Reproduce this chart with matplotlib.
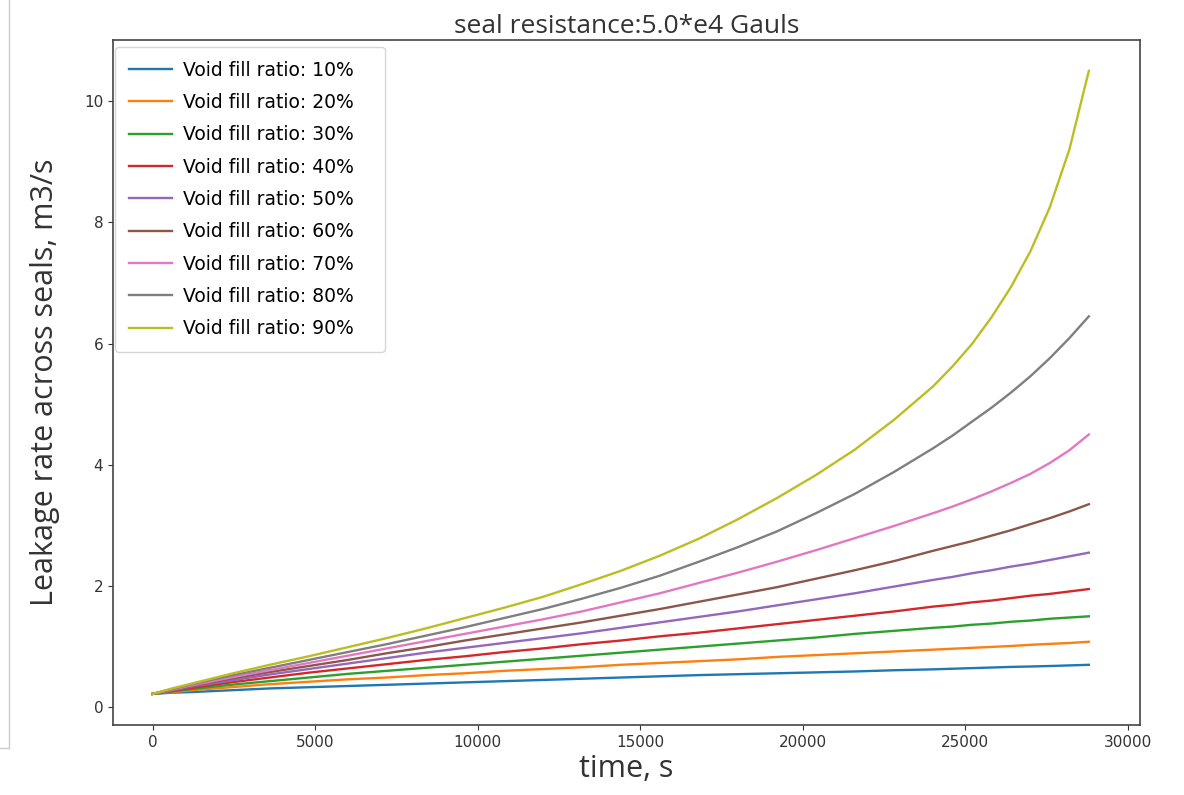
import matplotlib
matplotlib.use("Agg")
import matplotlib.pyplot as plt
from matplotlib.lines import Line2D

# time grid (s) and leakage rate (m3/s)
time = [0, 600, 1200, 2400, 3600, 4800, 6000, 7200, 8400, 9600, 10800, 12000,
        13200, 14400, 15600, 16800, 18000, 19200, 20400, 21600, 22800, 24000,
        24600, 25200, 25800, 26400, 27000, 27600, 28200, 28800]

ratios = [10, 20, 30, 40, 50, 60, 70, 80, 90]

leak_10 = [0.22, 0.24, 0.25, 0.28, 0.31, 0.33, 0.35, 0.37, 0.39, 0.41, 0.43, 0.45,
           0.47, 0.49, 0.51, 0.53, 0.545, 0.56, 0.575, 0.59, 0.61, 0.625,
           0.635, 0.645, 0.655, 0.665, 0.672, 0.68, 0.69, 0.70]
leak_20 = [0.22, 0.25, 0.28, 0.33, 0.38, 0.42, 0.46, 0.49, 0.53, 0.56, 0.60, 0.63,
           0.66, 0.70, 0.73, 0.76, 0.79, 0.83, 0.86, 0.89, 0.92, 0.95,
           0.965, 0.98, 0.995, 1.01, 1.03, 1.045, 1.06, 1.08]
leak_30 = [0.22, 0.26, 0.30, 0.37, 0.43, 0.49, 0.55, 0.60, 0.65, 0.70, 0.75, 0.80,
           0.85, 0.90, 0.95, 1.00, 1.05, 1.10, 1.15, 1.21, 1.26, 1.31,
           1.33, 1.36, 1.38, 1.41, 1.43, 1.46, 1.48, 1.50]
leak_40 = [0.22, 0.27, 0.32, 0.41, 0.49, 0.57, 0.64, 0.71, 0.78, 0.84, 0.91, 0.97,
           1.04, 1.10, 1.17, 1.23, 1.30, 1.37, 1.44, 1.51, 1.58, 1.66,
           1.69, 1.73, 1.76, 1.80, 1.84, 1.87, 1.91, 1.95]
leak_50 = [0.22, 0.28, 0.34, 0.44, 0.54, 0.63, 0.72, 0.81, 0.90, 0.98, 1.06, 1.14,
           1.22, 1.31, 1.40, 1.49, 1.58, 1.68, 1.78, 1.88, 1.99, 2.10,
           2.15, 2.21, 2.26, 2.32, 2.37, 2.43, 2.49, 2.55]
leak_60 = [0.22, 0.29, 0.35, 0.47, 0.58, 0.68, 0.78, 0.89, 0.99, 1.10, 1.20, 1.30,
           1.40, 1.51, 1.62, 1.74, 1.86, 1.98, 2.12, 2.26, 2.41, 2.58,
           2.66, 2.74, 2.83, 2.92, 3.02, 3.12, 3.23, 3.35]
leak_70 = [0.22, 0.29, 0.36, 0.49, 0.61, 0.73, 0.85, 0.97, 1.09, 1.21, 1.33, 1.45,
           1.58, 1.73, 1.88, 2.05, 2.22, 2.40, 2.59, 2.79, 2.99, 3.20,
           3.31, 3.43, 3.56, 3.70, 3.85, 4.03, 4.24, 4.50]
leak_80 = [0.22, 0.30, 0.38, 0.52, 0.65, 0.78, 0.91, 1.04, 1.18, 1.32, 1.47, 1.62,
           1.79, 1.97, 2.17, 2.40, 2.64, 2.90, 3.20, 3.52, 3.88, 4.27,
           4.48, 4.71, 4.94, 5.19, 5.46, 5.76, 6.09, 6.45]
leak_90 = [0.22, 0.31, 0.39, 0.55, 0.70, 0.84, 0.99, 1.14, 1.30, 1.47, 1.64, 1.82,
           2.03, 2.25, 2.50, 2.78, 3.10, 3.45, 3.83, 4.25, 4.74, 5.29,
           5.62, 5.99, 6.43, 6.93, 7.52, 8.25, 9.20, 10.50]

series = [leak_10, leak_20, leak_30, leak_40, leak_50, leak_60, leak_70, leak_80, leak_90]

fig = plt.figure(figsize=(11.84, 7.95), dpi=100)
ax = fig.add_axes([0.0954, 0.088, 0.8676, 0.862])

for r, vals in zip(ratios, series):
    ax.plot(time, vals, linewidth=1.7, label=f"Void fill ratio: {r}%")

ax.set_xlim(-1220, 30380)
ax.set_title("seal resistance:5.0*e4 Gauls", fontsize=19, color="#333333",
             family="Open Sans", pad=5)
ax.set_xlabel("time, s", fontsize=22, color="#333333", family="Open Sans", labelpad=3)
ax.set_ylabel("Leakage rate across seals, m3/s", fontsize=22, color="#333333",
              family="Open Sans", labelpad=17)
ax.tick_params(labelsize=11, colors="#333333")
for s in ax.spines.values():
    s.set_color("#444444")
    s.set_linewidth(1.2)
ax.legend(loc="upper left", fontsize=13.5, bbox_to_anchor=(0.002, 0.99, 0.263, 0),
          mode="expand", borderaxespad=0, borderpad=0.75, labelspacing=0.71,
          handlelength=2.3, handletextpad=0.6)

# thin screenshot border on the left edge
fig.add_artist(Line2D([9 / 1184, 9 / 1184], [1, 1 - 748 / 795], color="#cccccc", lw=1))
fig.add_artist(Line2D([0, 9 / 1184], [1 - 748 / 795, 1 - 748 / 795], color="#cccccc", lw=1))

fig.savefig("out.png", dpi=100)
